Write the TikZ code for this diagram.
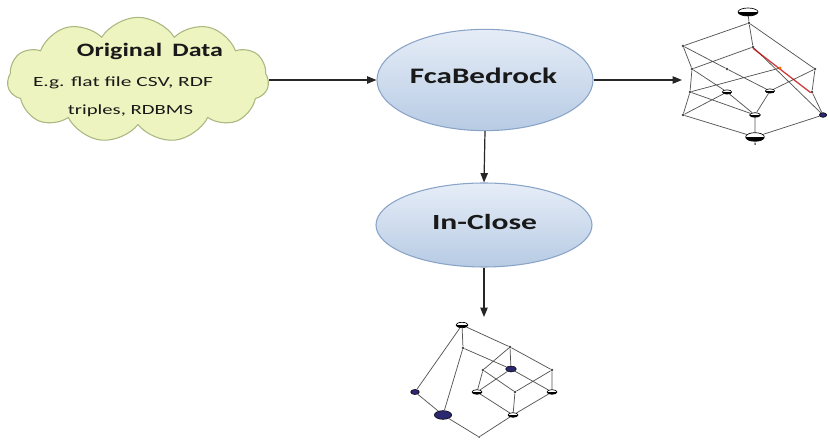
\documentclass[tikz,border=0pt]{standalone}
\usepackage{fontspec}
\usepackage{graphicx}
\setmainfont{Carlito}
\usetikzlibrary{shapes.symbols,shapes.geometric,arrows.meta}

\definecolor{cloudfill}{HTML}{EEF4C0}
\definecolor{cloudline}{HTML}{A9B880}
\definecolor{elltop}{HTML}{E6EDF7}
\definecolor{ellbot}{HTML}{B7CBE4}
\definecolor{ellline}{HTML}{8AA4C8}
\definecolor{edgegray}{HTML}{555555}
\definecolor{navy}{HTML}{2B2870}

% set a label to a given width, keeping its natural height
\newcommand\widetext[2]{\resizebox{#1}{\height}{#2}}

\tikzset{
  flow/.style={draw=black!85, line width=0.9pt, -{Triangle[length=7pt,width=5.5pt]}},
  process/.style={ellipse, draw=ellline, line width=0.8pt,
    top color=elltop, bottom color=ellbot, inner sep=0pt},
  label/.style={anchor=base, inner sep=0pt, text=black!90},
  edge/.style={draw=edgegray, line width=0.55pt},
  dot/.style={circle, fill=black!75, inner sep=0pt, minimum size=2pt},
  halfnode/.style={ellipse, draw=black, line width=0.5pt, fill=white, inner sep=0pt,
    path picture={\fill[black] (path picture bounding box.west) rectangle (path picture bounding box.south east);}},
  bluenode/.style={ellipse, draw=black, line width=0.4pt, fill=navy, inner sep=0pt},
}

\begin{document}
\begin{tikzpicture}[x=0.75pt,y=-0.75pt]
\path[use as bounding box, fill=white] (0,0) rectangle (829,441);

% source data cloud
\node[cloud, cloud puffs=11, cloud puff arc=115, aspect=2.1,
      draw=cloudline, line width=0.8pt, fill=cloudfill,
      minimum width=196pt, minimum height=94pt, inner sep=0pt] (cloud) at (138,80) {};
\node[label, font=\fontsize{14.2}{16}\selectfont\bfseries] (title) at (150,57)
  {\widetext{109.5pt}{Original\, Data}};
\node[label, font=\fontsize{10.5}{12}\selectfont] (sub1) at (123,87)
  {\widetext{135pt}{E.g. flat file CSV, RDF}};
\node[label, font=\fontsize{10.5}{12}\selectfont] (sub2) at (130.5,115)
  {\widetext{93.75pt}{triples, RDBMS}};

% processing steps
\node[process, minimum width=162pt, minimum height=76pt] (fca) at (485,80) {};
\node[label, font=\fontsize{16.6}{18}\selectfont\bfseries] (fcatext) at (483.5,83.5)
  {\widetext{110.25pt}{FcaBedrock}};
\node[process, minimum width=162pt, minimum height=63pt] (inclose) at (484,225) {};
\node[label, font=\fontsize{16.2}{18}\selectfont\bfseries] (inctext) at (484.5,230)
  {\widetext{78.75pt}{In-Close}};

\coordinate (latA) at (682,80);
\coordinate (latB) at (484,317);

\draw[flow] (cloud.east |- fca.west) -- (fca.west);
\draw[flow] (fca.east) -- (latA);
\draw[flow] (fca.south) -- (inclose.north);
\draw[flow] (inclose.south) -- (latB);

% lattice produced by FcaBedrock
\begin{scope}
\node[dot] (t2) at (749,23) {};
\node[dot] (l1) at (683,46) {};
\node[dot] (m) at (753,47) {};
\node[dot] (l2) at (692,69) {};
\node[dot] (n) at (727,69) {};
\node[dot] (p) at (815,69) {};
\node[dot] (l3) at (690,92) {};
\node[halfnode, minimum width=7pt, minimum height=3.2pt] (o1) at (727,92) {};
\node[halfnode, minimum width=7pt, minimum height=3.2pt] (o2) at (770,91) {};
\node[dot] (q) at (812,92) {};
\node[dot] (l4) at (683,115) {};
\node[halfnode, minimum width=8pt, minimum height=3.5pt] (o3) at (755,115) {};
\node[bluenode, minimum width=5.5pt, minimum height=3.5pt] (bb) at (823,115) {};
\node[dot, minimum size=1.5pt] (tail) at (755,144) {};
\coordinate (r) at (780,68);

\draw[edge] (t2) -- (l1) (t2) -- (m) (t2) -- (p)
  (l1) -- (l2) (l1) -- (n) -- (o2)
  (m) -- (l2) (m) -- (bb)
  (l2) -- (l3) (l2) -- (o1)
  (l3) -- (r) (p) -- (q) -- (bb) (p) -- (o2)
  (o2) -- (o3) (l3) -- (l4) (l3) -- (o3)
  (l4) -- (o1) (o3) -- (o1);
\draw[draw=red!75!black, line width=1pt, opacity=0.75] ([yshift=-1pt]m.center) -- ([xshift=-1pt,yshift=-0.5pt]q.center);
\node[fill=orange!80!red, circle, inner sep=0pt, minimum size=2.5pt] (rdot) at (r) {};

\node[halfnode, minimum width=14pt, minimum height=6.5pt] (bot) at (755,137) {};
\draw[edge] (l4) -- (bot) (o3) -- (bot) (bb) -- (bot) (bot) -- (tail);
\node[halfnode, minimum width=15pt, minimum height=6pt] (t) at (748,12) {};
\draw[edge] (t) -- (t2);
\end{scope}

% lattice produced by In-Close
\begin{scope}
\node[dot] (a) at (463,348) {};
\node[dot] (b) at (510,347) {};
\node[dot] (d) at (552,370) {};
\node[dot] (x) at (483,370) {};
\node[dot] (g) at (515,392) {};
\node[dot, minimum size=1.5pt] (k) at (479,437) {};
\node[bluenode, minimum width=6.5pt, minimum height=3.8pt] (e) at (415,392) {};
\node[bluenode, minimum width=8pt, minimum height=4.5pt] (c) at (511,369) {};
\node[bluenode, minimum width=13pt, minimum height=6.5pt] (i) at (443,415) {};
\node[halfnode, minimum width=7.5pt, minimum height=3.5pt] (f) at (477,392) {};
\node[halfnode, minimum width=7.5pt, minimum height=3.5pt] (h) at (552,392) {};
\node[halfnode, minimum width=7.5pt, minimum height=3.5pt] (j) at (513,415) {};
\node[halfnode, minimum width=9pt, minimum height=4pt] (top) at (462,325) {};

\draw[edge] (top) -- (e) (top) -- (a) (top) -- (b)
  (a) -- (i) (a) -- (c) (e) -- (i) (i) -- (k) (k) -- (j)
  (b) -- (x) (b) -- (c) (b) -- (d)
  (x) -- (f) (x) -- (g) (c) -- (f) (c) -- (h)
  (d) -- (g) (d) -- (h)
  (f) -- (j) (g) -- (j) (h) -- (j);
\end{scope}
\end{tikzpicture}
\end{document}
